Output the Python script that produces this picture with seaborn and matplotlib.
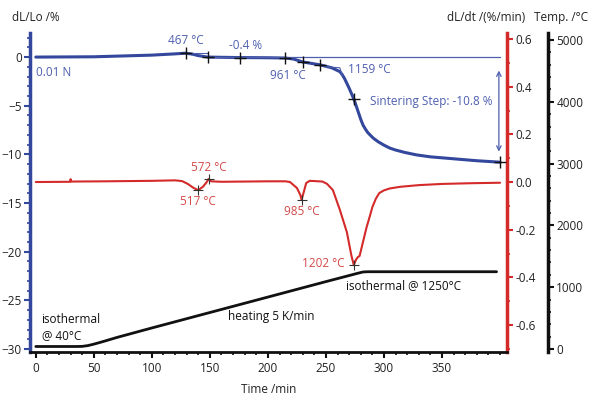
import matplotlib
matplotlib.use("Agg")
import matplotlib.pyplot as plt
import seaborn as sns
from matplotlib.ticker import MultipleLocator

# =====================================
# Data
# =====================================

# dL/Lo (%) vs time (min)
time_dl = [0, 50, 100, 120, 129, 135, 140, 148, 175, 200, 215, 222, 230, 245,
           255, 262, 264, 266, 268, 270, 272, 274, 276, 278, 280, 282, 284,
           286, 288, 291, 295, 300, 305, 310, 318, 328, 340, 357, 380, 400]
dl_lo = [0.0, 0.03, 0.2, 0.33, 0.4, 0.3, 0.15, 0.0, -0.05, -0.07, -0.1, -0.2,
         -0.5, -0.8, -1.1, -1.5, -1.8, -2.2, -2.7, -3.2, -3.75, -4.3, -5.0,
         -5.7, -6.4, -7.0, -7.4, -7.75, -8.0, -8.35, -8.7, -9.05, -9.35,
         -9.55, -9.8, -10.05, -10.25, -10.42, -10.65, -10.8]

# dL/dt (%/min) vs time (min)
time_rate = [0, 29.5, 30, 30.5, 60, 100, 120, 126, 131, 136, 140, 144, 147,
             149, 151, 160, 180, 200, 215, 219, 225, 228, 229, 231, 233, 236,
             240, 247, 251, 256, 262, 268, 272, 274, 276, 277.5, 279, 282,
             285, 288, 290, 293, 296, 300, 305, 314, 330, 350, 375, 400]
dl_dt = [0.0, 0.001, 0.012, 0.002, 0.003, 0.005, 0.007, 0.004, -0.008, -0.025,
         -0.034, -0.02, -0.002, 0.013, 0.003, 0.001, 0.002, 0.003, 0.003,
         0.0, -0.025, -0.055, -0.075, -0.04, -0.004, 0.005, 0.004, 0.002,
         -0.008, -0.034, -0.117, -0.21, -0.31, -0.348, -0.325, -0.315,
         -0.31, -0.25, -0.19, -0.14, -0.105, -0.07, -0.046, -0.035, -0.027,
         -0.02, -0.013, -0.008, -0.005, -0.003]

# temperature (°C) vs time (min)
time_temp = [0, 35, 40, 45, 50, 55, 60, 65, 70, 100, 150, 200, 250, 278,
             282, 286, 397]
temp = [40, 40, 42, 55, 78, 104, 131, 159, 187, 340, 590, 840, 1090, 1228,
        1246, 1250, 1250]

# evaluation marks
blue_mark_t = [129, 148, 176, 215, 230, 245, 274, 400]
blue_mark_v = [0.4, 0.0, -0.05, -0.1, -0.5, -0.8, -4.3, -10.8]
red_mark_t = [140, 149, 229, 274]
red_mark_v = [-0.034, 0.013, -0.075, -0.348]

blue = "#33479c"
blue_txt = "#4d5fae"
red = "#d42a2a"
red_txt = "#d44848"
black = "#111111"

# =====================================
# Setup
# =====================================

sns.set_style("ticks")
plt.rcParams["font.family"] = ["Open Sans", "DejaVu Sans"]
plt.rcParams["font.size"] = 8.5

fig = plt.figure(figsize=(6, 3.98), dpi=100)
ax = fig.add_axes([0.05, 0.1156, 0.795, 0.8014])
ax_rate = ax.twinx()
ax_temp = ax.twinx()

# =====================================
# Curves
# =====================================

sns.lineplot(x=time_temp, y=temp, ax=ax_temp, color=black, lw=2)
sns.lineplot(x=time_rate, y=dl_dt, ax=ax_rate, color=red, lw=1.5)
sns.lineplot(x=time_dl, y=dl_lo, ax=ax, color=blue, lw=2.2)

# baseline / tangents
ax.plot([148, 400], [-0.03, -0.03], color=blue_txt, lw=0.9)
ax.plot([129, 148, 148], [0.4, 0.4, 0.0], color=blue_txt, lw=0.8)
ax.plot([250, 262, 264], [-1.0, -1.1, -1.9], color=blue_txt, lw=0.8)
ax.annotate("", xy=(399, -10.0), xytext=(399, -1.1),
            arrowprops=dict(arrowstyle="<->", color=blue_txt, lw=0.9,
                            mutation_scale=8))

sns.scatterplot(x=blue_mark_t, y=blue_mark_v, ax=ax, marker="+", s=70,
                color=black, linewidth=1, zorder=5)
sns.scatterplot(x=red_mark_t, y=red_mark_v, ax=ax_rate, marker="+", s=45,
                color="#333333", linewidth=0.8, zorder=5)

# =====================================
# Labels
# =====================================

ax.text(129, 1.0, "467 °C", color=blue_txt, ha="center", va="bottom")
ax.text(181, 0.55, "-0.4 %", color=blue_txt, ha="center", va="bottom")
ax.text(0, -0.9, "0.01 N", color=blue_txt, ha="left", va="top")
ax.text(217, -1.2, "961 °C", color=blue_txt, ha="center", va="top")
ax.text(269, -1.3, "1159 °C", color=blue_txt, ha="left", va="center")
ax.text(288, -4.6, "Sintering Step: -10.8 %", color=blue_txt, ha="left",
        va="center")

ax_rate.text(149, 0.033, "572 °C", color=red_txt, ha="center", va="bottom")
ax_rate.text(140, -0.055, "517 °C", color=red_txt, ha="center", va="top")
ax_rate.text(229, -0.095, "985 °C", color=red_txt, ha="center", va="top")
ax_rate.text(266, -0.34, "1202 °C", color=red_txt, ha="right", va="center")

ax_temp.text(5, 345, "isothermal\n@ 40°C", color=black, ha="left",
             va="center", linespacing=1.3)
ax_temp.text(203, 520, "heating 5 K/min", color=black, ha="center",
             va="center")
ax_temp.text(267, 1020, "isothermal @ 1250°C", color=black, ha="left",
             va="center")

fig.text(0.02, 0.955, "dL/Lo /%", color="#222222", ha="left", va="center")
fig.text(0.875, 0.955, "dL/dt /(%/min)", color="#222222", ha="right",
         va="center")
fig.text(0.89, 0.955, "Temp. /°C", color="#222222", ha="left", va="center")
ax.set_xlabel("Time /min", color="#222222", labelpad=6)
ax.set_ylabel("")
ax_rate.set_ylabel("")
ax_temp.set_ylabel("")

# =====================================
# Axes styling
# =====================================

ax.set_xlim(-5, 406)
ax.set_ylim(-30.3, 2.47)
ax_rate.set_ylim(-0.713, 0.625)
ax_temp.set_ylim(-49, 5113)

ax.xaxis.set_major_locator(MultipleLocator(50))
ax.xaxis.set_minor_locator(MultipleLocator(10))
ax.yaxis.set_major_locator(MultipleLocator(5))
ax.yaxis.set_minor_locator(MultipleLocator(1))
ax_rate.yaxis.set_major_locator(MultipleLocator(0.2))
ax_rate.yaxis.set_minor_locator(MultipleLocator(0.1))
ax_temp.yaxis.set_major_locator(MultipleLocator(1000))
ax_temp.yaxis.set_minor_locator(MultipleLocator(200))

ax.set_xticks([0, 50, 100, 150, 200, 250, 300, 350])
ax_rate.set_yticks([-0.6, -0.4, -0.2, 0.0, 0.2, 0.4, 0.6])
ax_rate.set_yticklabels(["-0.6", "-0.4", "-0.2", "0.0", "0.2", "0.4", "0.6"])

for a in (ax, ax_rate, ax_temp):
    for s in a.spines.values():
        s.set_visible(False)

ax.spines["left"].set_visible(True)
ax.spines["left"].set_color(blue)
ax.spines["left"].set_linewidth(2.5)
ax.spines["bottom"].set_visible(True)
ax.spines["bottom"].set_color(black)
ax.spines["bottom"].set_linewidth(2)

ax_rate.spines["right"].set_visible(True)
ax_rate.spines["right"].set_color(red)
ax_rate.spines["right"].set_linewidth(2.5)

ax_temp.spines["right"].set_visible(True)
ax_temp.spines["right"].set_color(black)
ax_temp.spines["right"].set_linewidth(2.5)
# 41 px to the right of the red axis (points at 100 dpi)
ax_temp.spines["right"].set_position(("outward", 41 * 72 / 100))

ax.tick_params(axis="y", which="major", colors=blue, length=4, width=1.5,
               labelcolor="#222222", pad=2)
ax.tick_params(axis="y", which="minor", colors=blue, length=2.5, width=1.2)
ax.tick_params(axis="x", which="major", colors=black, length=4, width=1.5,
               labelcolor="#222222", pad=3)
ax.tick_params(axis="x", which="minor", colors=black, length=2.5, width=1.2)
ax_rate.tick_params(axis="y", which="major", colors=red, length=4, width=1.5,
                    labelcolor="#222222", pad=2)
ax_rate.tick_params(axis="y", which="minor", colors=red, length=2.5,
                    width=1.2)
ax_temp.tick_params(axis="y", which="major", colors=black, length=4,
                    width=1.5, labelcolor="#222222", pad=2)
ax_temp.tick_params(axis="y", which="minor", colors=black, length=2.5,
                    width=1.2)

ax.set_zorder(ax_temp.get_zorder() + 1)
ax.patch.set_visible(False)

fig.savefig("out.png", dpi=100)
